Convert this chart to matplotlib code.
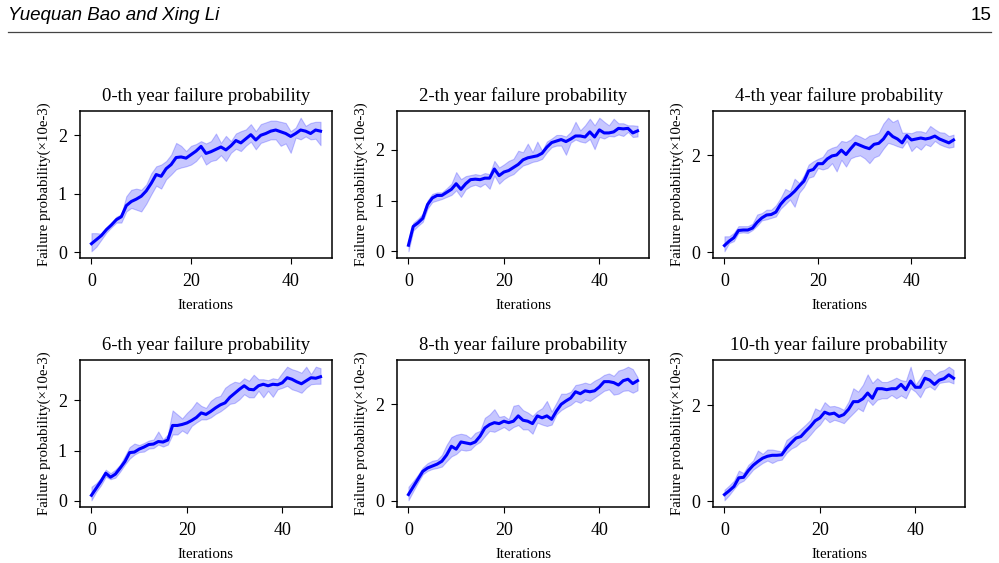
import numpy as np
import matplotlib
matplotlib.use("Agg")
import matplotlib.pyplot as plt
from matplotlib.lines import Line2D

plt.rcParams['font.family'] = ['Liberation Serif', 'DejaVu Serif']

# ---- data (failure probability, x10e-3) ----
mean_0 = [0.15, 0.22, 0.29, 0.39, 0.47, 0.56, 0.61, 0.80, 0.87, 0.91, 0.96, 1.05, 1.18, 1.33, 1.30, 1.43,
          1.50, 1.62, 1.63, 1.61, 1.67, 1.73, 1.81, 1.69, 1.72, 1.76, 1.80, 1.75, 1.82, 1.91, 1.87, 1.94,
          2.01, 1.92, 2.00, 2.03, 2.07, 2.09, 2.06, 2.03, 1.98, 2.03, 2.09, 2.07, 2.03, 2.09, 2.07]
upper_0 = [0.33, 0.33, 0.32, 0.42, 0.49, 0.61, 0.65, 0.96, 1.07, 1.09, 1.07, 1.16, 1.35, 1.47, 1.50, 1.56,
           1.67, 1.87, 1.82, 1.73, 1.82, 1.85, 1.90, 1.86, 1.90, 2.03, 1.87, 1.99, 1.90, 2.03, 2.07, 2.10,
           2.19, 2.07, 2.19, 2.22, 2.25, 2.25, 2.23, 2.21, 2.07, 2.13, 2.30, 2.16, 2.21, 2.23, 2.23]
lower_0 = [0.02, 0.10, 0.22, 0.34, 0.43, 0.51, 0.51, 0.70, 0.76, 0.73, 0.70, 0.83, 0.99, 1.14, 1.09, 1.25,
           1.33, 1.42, 1.45, 1.47, 1.50, 1.56, 1.66, 1.50, 1.56, 1.58, 1.66, 1.56, 1.70, 1.77, 1.73, 1.82,
           1.89, 1.76, 1.87, 1.90, 1.93, 1.93, 1.82, 1.86, 1.70, 1.96, 1.93, 1.98, 1.93, 1.94, 1.83]

mean_2 = [0.12, 0.49, 0.56, 0.65, 0.92, 1.05, 1.10, 1.10, 1.16, 1.22, 1.33, 1.22, 1.33, 1.41, 1.42, 1.41,
          1.44, 1.44, 1.62, 1.49, 1.56, 1.59, 1.65, 1.71, 1.80, 1.84, 1.86, 1.88, 1.93, 2.05, 2.14, 2.17,
          2.20, 2.16, 2.21, 2.27, 2.27, 2.25, 2.35, 2.25, 2.39, 2.33, 2.33, 2.35, 2.42, 2.41, 2.42, 2.33, 2.37]
upper_2 = [0.22, 0.56, 0.64, 0.74, 1.00, 1.13, 1.16, 1.16, 1.24, 1.33, 1.56, 1.42, 1.48, 1.50, 1.52, 1.50,
           1.54, 1.52, 1.78, 1.65, 1.71, 1.78, 1.82, 1.98, 1.95, 2.12, 1.95, 2.16, 1.98, 2.16, 2.22, 2.29,
           2.29, 2.26, 2.35, 2.55, 2.38, 2.48, 2.61, 2.48, 2.63, 2.55, 2.48, 2.61, 2.52, 2.52, 2.48, 2.48, 2.47]
lower_2 = [0.00, 0.41, 0.50, 0.58, 0.84, 0.97, 1.00, 1.03, 1.07, 1.11, 1.20, 1.07, 1.22, 1.28, 1.31, 1.27,
           1.33, 1.23, 1.49, 1.33, 1.42, 1.48, 1.52, 1.61, 1.69, 1.72, 1.76, 1.78, 1.82, 1.95, 2.05, 2.08,
           2.08, 1.90, 2.14, 2.20, 2.16, 2.14, 2.21, 2.01, 2.25, 2.22, 2.27, 2.26, 2.30, 2.27, 2.35, 2.25, 2.26]

mean_4 = [0.14, 0.23, 0.30, 0.45, 0.46, 0.46, 0.50, 0.62, 0.71, 0.77, 0.78, 0.83, 0.99, 1.10, 1.17, 1.26,
          1.37, 1.47, 1.68, 1.71, 1.83, 1.83, 1.93, 1.99, 2.01, 2.11, 2.02, 2.14, 2.25, 2.21, 2.17, 2.14,
          2.23, 2.25, 2.34, 2.48, 2.39, 2.34, 2.26, 2.41, 2.32, 2.34, 2.36, 2.34, 2.36, 2.40, 2.34, 2.30,
          2.26, 2.32]
upper_4 = [0.33, 0.33, 0.40, 0.54, 0.54, 0.54, 0.59, 0.78, 0.81, 0.88, 0.88, 0.97, 1.12, 1.31, 1.26, 1.52,
           1.43, 1.59, 1.81, 1.88, 1.93, 1.97, 2.11, 2.16, 2.19, 2.30, 2.28, 2.33, 2.43, 2.39, 2.34, 2.41,
           2.43, 2.47, 2.66, 2.78, 2.69, 2.74, 2.47, 2.47, 2.46, 2.50, 2.50, 2.47, 2.61, 2.54, 2.48, 2.47,
           2.40, 2.43]
lower_4 = [0.02, 0.19, 0.23, 0.40, 0.41, 0.40, 0.46, 0.55, 0.66, 0.68, 0.71, 0.74, 0.90, 0.99, 1.09, 0.94,
           1.23, 1.35, 1.54, 1.57, 1.74, 1.71, 1.74, 1.84, 1.67, 1.91, 1.77, 1.94, 1.98, 2.00, 1.94, 1.84,
           1.96, 2.00, 2.14, 2.26, 2.23, 2.19, 2.16, 2.30, 2.09, 2.19, 2.12, 2.23, 2.19, 2.30, 2.23, 2.19,
           2.16, 2.18]

mean_6 = [0.11, 0.25, 0.39, 0.55, 0.47, 0.53, 0.65, 0.78, 0.96, 0.97, 1.03, 1.07, 1.12, 1.13, 1.18, 1.17,
          1.21, 1.50, 1.50, 1.52, 1.55, 1.60, 1.66, 1.75, 1.72, 1.78, 1.85, 1.91, 1.95, 2.06, 2.14, 2.22,
          2.29, 2.22, 2.21, 2.29, 2.32, 2.29, 2.32, 2.31, 2.35, 2.45, 2.42, 2.37, 2.33, 2.39, 2.45, 2.44, 2.47]
upper_6 = [0.28, 0.35, 0.46, 0.62, 0.55, 0.62, 0.72, 0.89, 1.07, 1.14, 1.11, 1.15, 1.20, 1.22, 1.38, 1.22,
           1.32, 1.80, 1.72, 1.64, 1.75, 1.84, 1.97, 1.89, 1.85, 1.99, 2.06, 2.09, 2.25, 2.32, 2.37, 2.35,
           2.44, 2.39, 2.51, 2.42, 2.42, 2.40, 2.44, 2.42, 2.55, 2.67, 2.62, 2.59, 2.55, 2.67, 2.52, 2.67, 2.64]
lower_6 = [0.01, 0.18, 0.31, 0.48, 0.43, 0.46, 0.58, 0.72, 0.84, 0.92, 0.97, 0.98, 1.04, 1.05, 1.12, 1.08,
           1.12, 1.32, 1.32, 1.40, 1.34, 1.49, 1.56, 1.62, 1.62, 1.66, 1.73, 1.78, 1.85, 1.93, 1.95, 2.02,
           2.12, 2.06, 2.06, 2.19, 2.06, 2.19, 2.07, 2.22, 2.25, 2.29, 2.22, 2.19, 2.15, 2.25, 2.32, 2.33, 2.33]

mean_8 = [0.13, 0.29, 0.45, 0.61, 0.68, 0.72, 0.76, 0.82, 0.95, 1.13, 1.07, 1.22, 1.20, 1.18, 1.22, 1.34,
          1.51, 1.58, 1.62, 1.60, 1.65, 1.62, 1.65, 1.76, 1.67, 1.65, 1.60, 1.76, 1.72, 1.76, 1.69, 1.86,
          2.00, 2.07, 2.13, 2.26, 2.22, 2.28, 2.26, 2.28, 2.36, 2.47, 2.47, 2.45, 2.40, 2.49, 2.52, 2.43, 2.49]
upper_8 = [0.29, 0.41, 0.54, 0.69, 0.78, 0.83, 0.85, 0.95, 1.16, 1.32, 1.37, 1.39, 1.37, 1.30, 1.41, 1.45,
           1.72, 1.79, 1.90, 1.74, 1.76, 1.69, 1.97, 1.99, 1.88, 1.83, 1.76, 1.86, 1.92, 2.07, 1.85, 2.03,
           2.22, 2.22, 2.26, 2.40, 2.42, 2.45, 2.42, 2.49, 2.54, 2.61, 2.64, 2.59, 2.70, 2.73, 2.78, 2.73, 2.56]
lower_8 = [0.01, 0.20, 0.38, 0.55, 0.62, 0.66, 0.68, 0.71, 0.82, 0.92, 0.97, 1.06, 1.04, 1.06, 1.16, 1.22,
           1.34, 1.45, 1.43, 1.48, 1.53, 1.46, 1.53, 1.57, 1.48, 1.48, 1.39, 1.62, 1.58, 1.55, 1.58, 1.79,
           1.88, 1.94, 1.99, 2.07, 2.03, 2.10, 2.07, 2.14, 2.21, 2.28, 2.31, 2.20, 2.22, 2.28, 2.29, 2.24, 2.29]

mean_10 = [0.14, 0.22, 0.31, 0.49, 0.50, 0.64, 0.75, 0.83, 0.90, 0.94, 0.96, 0.96, 0.97, 1.11, 1.22, 1.32,
           1.35, 1.46, 1.56, 1.68, 1.74, 1.86, 1.82, 1.84, 1.77, 1.81, 1.92, 2.08, 2.08, 2.14, 2.26, 2.15,
           2.35, 2.35, 2.33, 2.35, 2.35, 2.44, 2.33, 2.51, 2.38, 2.38, 2.57, 2.53, 2.44, 2.53, 2.56, 2.64, 2.57]
upper_10 = [0.24, 0.33, 0.43, 0.64, 0.59, 0.76, 0.85, 1.06, 0.99, 1.08, 1.08, 1.06, 1.04, 1.28, 1.35, 1.42,
            1.51, 1.60, 1.70, 1.94, 1.89, 2.07, 1.98, 1.99, 1.96, 1.91, 2.08, 2.36, 2.29, 2.43, 2.65, 2.47,
            2.57, 2.49, 2.49, 2.53, 2.58, 2.53, 2.51, 2.81, 2.43, 2.57, 2.74, 2.74, 2.63, 2.71, 2.74, 2.81, 2.74]
lower_10 = [0.02, 0.13, 0.26, 0.38, 0.43, 0.54, 0.66, 0.73, 0.80, 0.85, 0.80, 0.85, 0.87, 1.01, 1.10, 1.15,
            1.24, 1.28, 1.39, 1.51, 1.60, 1.74, 1.65, 1.70, 1.67, 1.63, 1.74, 1.84, 1.94, 1.88, 2.12, 2.01,
            2.12, 2.15, 2.15, 2.22, 2.15, 2.21, 2.15, 2.36, 2.29, 2.17, 2.36, 2.40, 2.33, 2.47, 2.49, 2.50, 2.46]

years = [0, 2, 4, 6, 8, 10]
means = [mean_0, mean_2, mean_4, mean_6, mean_8, mean_10]
uppers = [upper_0, upper_2, upper_4, upper_6, upper_8, upper_10]
lowers = [lower_0, lower_2, lower_4, lower_6, lower_8, lower_10]
yticks = [[0, 1, 2], [0, 1, 2], [0, 2], [0, 1, 2], [0, 2], [0, 2]]

W, H = 999, 563
fig = plt.figure(figsize=(W / 100, H / 100), dpi=100)

# page header
fig.text(8 / W, 1 - 15 / H, "Yuequan Bao and Xing Li", family="Liberation Sans",
         style="italic", fontsize=13.5, va="center", ha="left")
fig.text(991 / W, 1 - 15 / H, "15", family="Liberation Sans", fontsize=13.5, va="center", ha="right")
fig.add_artist(Line2D([8 / W, 991 / W], [1 - 31.5 / H, 1 - 31.5 / H], color="#444444", lw=0.9))

lefts = [80, 397, 713]
tops = [111, 360]
aw, ah = 252, 147

for i, yr in enumerate(years):
    r, c = divmod(i, 3)
    l, t = lefts[c], tops[r]
    ax = fig.add_axes([l / W, 1 - (t + ah) / H, aw / W, ah / H])
    x = np.arange(len(means[i]))
    ax.fill_between(x, lowers[i], uppers[i], color="blue", alpha=0.22, lw=0.8)
    ax.plot(x, means[i], color="blue", lw=2.2)
    ax.set_title(f"{yr}-th year failure probability", fontsize=13.5, pad=7.5)
    ax.set_xlabel("Iterations", fontsize=10.7, labelpad=7)
    ax.set_ylabel("Failure probability(×10e-3)", fontsize=10.7, labelpad=5)
    ax.set_xticks([0, 20, 40])
    ax.set_yticks(yticks[i])
    ax.tick_params(labelsize=13, length=4.5)
    ax.tick_params(axis="x", pad=6)
    ax.tick_params(axis="y", pad=5)
    for s in ax.spines.values():
        s.set_linewidth(1.1)

fig.savefig("out.png", dpi=100)
